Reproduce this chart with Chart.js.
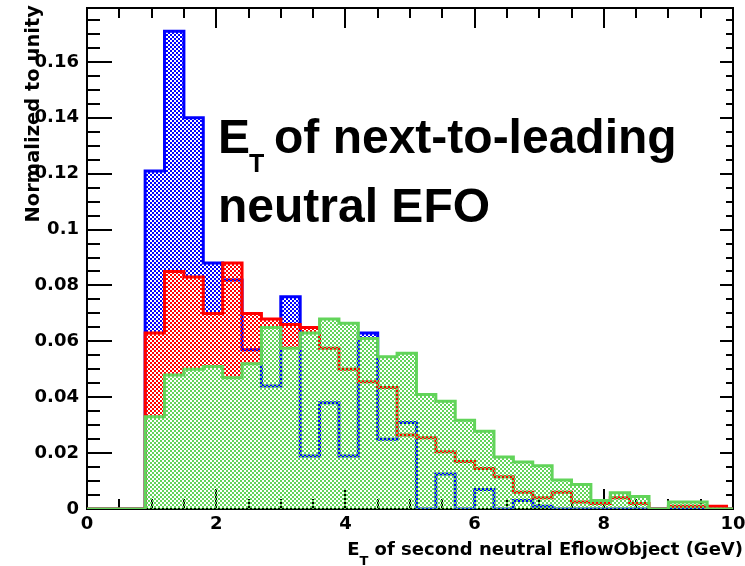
<!DOCTYPE html>
<html>
<head>
<meta charset="utf-8">
<script src="https://cdn.jsdelivr.net/npm/chart.js@4.4.1/dist/chart.umd.min.js"></script>
<style>
  html, body { margin: 0; padding: 0; background: #ffffff; }
  canvas { display: block; }
</style>
</head>
<body>
<canvas id="c" width="745" height="566"></canvas>
<script>
// Histogram bin edges (GeV), 0.3 GeV wide bins
const binEdges = [0, 0.3, 0.6, 0.9, 1.2, 1.5, 1.8, 2.1, 2.4, 2.7, 3.0, 3.3, 3.6, 3.9, 4.2, 4.5,
  4.8, 5.1, 5.4, 5.7, 6.0, 6.3, 6.6, 6.9, 7.2, 7.5, 7.8, 8.1, 8.4, 8.7, 9.0, 9.3, 9.6, 9.9, 10.2];

// Normalized bin contents, one value per bin
const blueValues = [0, 0, 0,
  0.121, 0.171, 0.140, 0.088, 0.082, 0.057, 0.044, 0.076, 0.019, 0.038, 0.019, 0.063,
  0.025, 0.031, 0, 0.0125, 0, 0.007, 0, 0.003, 0.001,
  0, 0, 0, 0, 0, 0, 0, 0, 0, 0];
const redValues = [0, 0, 0,
  0.063, 0.085, 0.083, 0.070, 0.088, 0.070, 0.068, 0.066, 0.065, 0.0575, 0.050, 0.0455,
  0.0435, 0.0265, 0.0255, 0.0205, 0.017, 0.0145, 0.0115, 0.006, 0.004, 0.006, 0.0025,
  0.002, 0.004, 0.002, 0, 0.001, 0.001, 0.001, 0];
const greenValues = [0, 0, 0,
  0.033, 0.048, 0.050, 0.051, 0.047, 0.052, 0.065, 0.0575, 0.063, 0.068, 0.0665, 0.061,
  0.0545, 0.0557, 0.041, 0.0386, 0.0318, 0.0278, 0.0186, 0.0168, 0.0155, 0.0104, 0.0088,
  0.003, 0.0058, 0.0045, 0, 0.0025, 0.0025, 0, 0];

const xTickLabels = ['0', '2', '4', '6', '8', '10'];
const yTickLabels = ['0', '0.02', '0.04', '0.06', '0.08', '0.1', '0.12', '0.14', '0.16'];

const BLUE = '#0000ff';
const RED = '#ff0000';
const GREEN = 'rgb(98,212,90)';

const canvas = document.getElementById('c');
const ctx0 = canvas.getContext('2d');

// checkerboard hatch of 2px cells; the uncoloured cells stay transparent
function hatch(color) {
  const tile = document.createElement('canvas');
  tile.width = 4; tile.height = 4;
  const g = tile.getContext('2d');
  g.fillStyle = color;
  g.fillRect(0, 0, 2, 2);
  g.fillRect(2, 2, 2, 2);
  return ctx0.createPattern(tile, 'repeat');
}

// one point per bin edge; the last edge carries the last bin's content
function histPoints(values) {
  return binEdges.map((x, i) => ({ x: x, y: values[Math.min(i, values.length - 1)] }));
}

function histDataset(values, color, order) {
  return {
    data: histPoints(values),
    stepped: 'before',
    borderColor: color,
    borderWidth: 3,
    borderJoinStyle: 'miter',
    backgroundColor: hatch(color),
    fill: 'origin',
    pointRadius: 0,
    tension: 0,
    order: order
  };
}

// frame with inward major/minor ticks on all four sides
const frameTicks = {
  id: 'frameTicks',
  beforeDatasetsDraw(chart) {
    const { ctx, chartArea: a, scales: { x, y } } = chart;
    ctx.save();
    ctx.strokeStyle = '#000';
    ctx.lineWidth = 2;
    ctx.beginPath();
    for (let k = 0; k <= 20; k++) {
      const v = k * 0.5;
      const px = Math.round(x.getPixelForValue(v));
      const major = k % 4 === 0;
      const lb = major ? 20 : 10;
      ctx.moveTo(px, a.bottom); ctx.lineTo(px, a.bottom - lb);
      ctx.moveTo(px, a.top); ctx.lineTo(px, a.top + lb);
    }
    for (let k = 0; k * 0.005 <= y.max + 1e-9; k++) {
      const py = Math.round(y.getPixelForValue(k * 0.005));
      const major = k % 4 === 0;
      ctx.moveTo(a.left, py); ctx.lineTo(a.left + (major ? 25 : 13), py);
      ctx.moveTo(a.right, py); ctx.lineTo(a.right - (major ? 13 : 7), py);
    }
    ctx.stroke();
    ctx.strokeRect(a.left, a.top, a.right - a.left, a.bottom - a.top);
    ctx.restore();
  }
};

// axis titles and the plot caption
const captions = {
  id: 'captions',
  afterDraw(chart) {
    const ctx = chart.ctx;
    ctx.save();
    ctx.fillStyle = '#000';

    // y axis title, read upward and ending at the top of the axis
    ctx.save();
    ctx.translate(39, 5);
    ctx.rotate(-Math.PI / 2);
    ctx.font = 'bold 19.5px "DejaVu Sans"';
    ctx.textAlign = 'right';
    ctx.textBaseline = 'alphabetic';
    ctx.fillText('Normalized to unity', 0, 0);
    ctx.restore();

    // x axis title with subscript, right aligned at the axis end
    ctx.textAlign = 'left';
    ctx.textBaseline = 'alphabetic';
    const big = 'bold 18px "DejaVu Sans"';
    const sub = 'bold 13px "DejaVu Sans"';
    const rest = ' of second neutral EflowObject (GeV)';
    ctx.font = big;
    const wE = ctx.measureText('E').width;
    const wR = ctx.measureText(rest).width;
    ctx.font = sub;
    const wT = ctx.measureText('T').width;
    let xs = 743 - (wE + wT + wR);
    const by = 555;
    ctx.font = big; ctx.fillText('E', xs, by); xs += wE;
    ctx.font = sub; ctx.fillText('T', xs, by + 10); xs += wT;
    ctx.font = big; ctx.fillText(rest, xs, by);

    // caption
    const capFont = 'bold 48px "Liberation Sans", Arial, sans-serif';
    ctx.font = capFont;
    ctx.fillText('E', 218, 153);
    ctx.font = 'bold 25px "Liberation Sans", Arial, sans-serif';
    ctx.fillText('T', 249, 172);
    ctx.font = capFont;
    ctx.fillText('of next-to-leading', 274, 153);
    ctx.fillText('neutral EFO', 218, 222);
    ctx.restore();
  }
};

const tickFont = { family: 'DejaVu Sans', weight: 'bold', size: 18 };

new Chart(canvas, {
  type: 'line',
  data: {
    datasets: [
      histDataset(greenValues, GREEN, 1),
      histDataset(redValues, RED, 2),
      histDataset(blueValues, BLUE, 3)
    ]
  },
  options: {
    responsive: false,
    animation: false,
    events: [],
    layout: { padding: { left: 0, top: 8, right: 12, bottom: 0 } },
    plugins: { legend: { display: false }, tooltip: { enabled: false } },
    scales: {
      x: {
        type: 'linear',
        min: 0,
        max: 10,
        grid: { display: false, drawTicks: false },
        border: { display: false },
        ticks: {
          stepSize: 2,
          autoSkip: false,
          maxRotation: 0,
          padding: 5,
          color: '#000',
          font: tickFont,
          callback: (v, i) => xTickLabels[i]
        },
        afterFit: s => { s.height = 57; s.paddingLeft = 0; s.paddingRight = 0; }
      },
      y: {
        type: 'linear',
        min: 0,
        max: 0.1793,
        grid: { display: false, drawTicks: false },
        border: { display: false },
        ticks: {
          stepSize: 0.02,
          includeBounds: false,
          padding: 8,
          color: '#000',
          font: tickFont,
          callback: (v, i) => yTickLabels[i]
        },
        afterFit: s => { s.width = 87; s.paddingTop = 0; s.paddingBottom = 0; }
      }
    }
  },
  plugins: [frameTicks, captions]
});
</script>
</body>
</html>
